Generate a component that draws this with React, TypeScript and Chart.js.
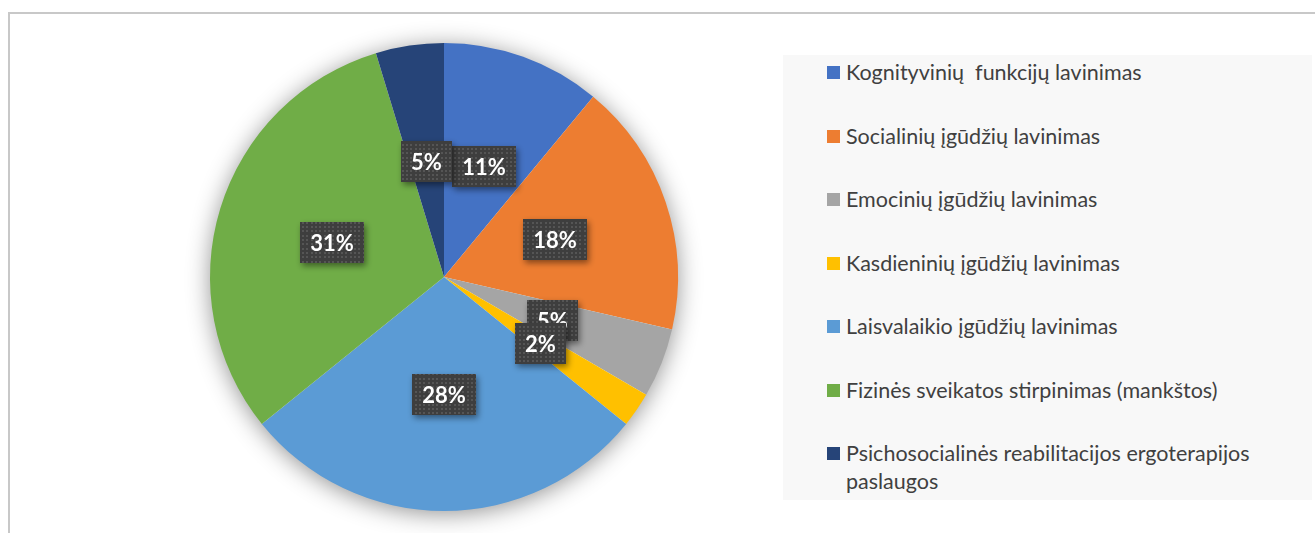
import React, { useEffect, useRef } from "react";
import { Chart, registerables } from "chart.js";

Chart.register(...registerables);

const categories: string[] = [
  "Kognityvinių  funkcijų lavinimas",
  "Socialinių įgūdžių lavinimas",
  "Emocinių įgūdžių lavinimas",
  "Kasdieninių įgūdžių lavinimas",
  "Laisvalaikio įgūdžių lavinimas",
  "Fizinės sveikatos stirpinimas (mankštos)",
  "Psichosocialinės reabilitacijos ergoterapijos paslaugos",
];

const values: number[] = [11, 17.6, 4.8, 2.4, 28.4, 31.1, 4.7];

const colors: string[] = [
  "#4472C4",
  "#ED7D31",
  "#A5A5A5",
  "#FFC000",
  "#5B9BD5",
  "#70AD47",
  "#264478",
];

function makePattern(ctx: CanvasRenderingContext2D): CanvasPattern | string {
  const tile = document.createElement("canvas");
  tile.width = 13;
  tile.height = 13;
  const t = tile.getContext("2d");
  if (!t) return "#404040";
  t.fillStyle = "#3e3e3e";
  t.fillRect(0, 0, 13, 13);
  t.fillStyle = "#555555";
  [1, 5, 9].forEach((px) => {
    [1, 5, 9].forEach((py) => {
      t.fillRect(px, py, 2, 2);
    });
  });
  return ctx.createPattern(tile, "repeat") || "#404040";
}

export default function App() {
  const canvasRef = useRef<HTMLCanvasElement | null>(null);

  useEffect(() => {
    const canvas = canvasRef.current;
    if (!canvas) return;

    const shadowPlugin = {
      id: "pieShadow",
      beforeDatasetsDraw(chart: any) {
        const meta = chart.getDatasetMeta(0);
        const arc = meta.data[0];
        if (!arc) return;
        const { x, y, outerRadius } = arc.getProps(["x", "y", "outerRadius"], true);
        const ctx = chart.ctx;
        ctx.save();
        ctx.shadowColor = "rgba(0,0,0,0.45)";
        ctx.shadowBlur = 24;
        ctx.shadowOffsetX = 0;
        ctx.shadowOffsetY = 3;
        ctx.fillStyle = "#ffffff";
        ctx.beginPath();
        ctx.arc(x, y, outerRadius - 1, 0, Math.PI * 2);
        ctx.fill();
        ctx.restore();
      },
    };

    const labelPlugin = {
      id: "boxLabels",
      afterDatasetsDraw(chart: any) {
        const meta = chart.getDatasetMeta(0);
        const ctx: CanvasRenderingContext2D = chart.ctx;
        const pattern = makePattern(ctx);
        ctx.save();
        ctx.font = "bold 22px Lato";
        meta.data.forEach((arc: any, i: number) => {
          const { x, y } = arc.getCenterPoint(true);
          const text = Math.round(values[i]) + "%";
          const w = Math.round(ctx.measureText(text).width + 20);
          const h = 41;
          const bx = Math.round(x - w / 2);
          const by = Math.round(y - h / 2);
          ctx.shadowColor = "rgba(0,0,0,0.45)";
          ctx.shadowBlur = 6;
          ctx.shadowOffsetX = 2;
          ctx.shadowOffsetY = 3;
          ctx.fillStyle = pattern as any;
          ctx.fillRect(bx, by, w, h);
          ctx.shadowColor = "rgba(0,0,0,0)";
          ctx.shadowBlur = 0;
          ctx.shadowOffsetX = 0;
          ctx.shadowOffsetY = 0;
          ctx.fillStyle = "#ffffff";
          ctx.textAlign = "center";
          ctx.textBaseline = "middle";
          ctx.fillText(text, bx + w / 2, by + h / 2 + 1);
        });
        ctx.restore();
      },
    };

    const chart = new Chart(canvas, {
      type: "pie",
      data: {
        labels: categories,
        datasets: [
          {
            data: values,
            backgroundColor: colors,
            borderWidth: 0,
            hoverOffset: 0,
            offset: 0,
          } as any,
        ],
      },
      options: {
        responsive: false,
        animation: false,
        layout: { padding: { left: 30, right: 30, top: 30, bottom: 22 } },
        plugins: {
          legend: { display: false },
          tooltip: { enabled: false },
        },
      },
      plugins: [shadowPlugin, labelPlugin],
    });

    return () => {
      chart.destroy();
    };
  }, []);

  return (
    <div
      style={{
        position: "fixed",
        left: 0,
        top: 0,
        width: 1315,
        height: 533,
        background: "#ffffff",
        overflow: "hidden",
        fontFamily: "Lato, sans-serif",
      }}
    >
      <div
        style={{
          position: "absolute",
          left: 8,
          top: 12,
          width: 1400,
          height: 600,
          border: "2px solid #c8c8c8",
          boxSizing: "border-box",
        }}
      />
      <div
        style={{
          position: "absolute",
          left: 783,
          top: 55,
          width: 529,
          height: 445,
          background: "#f8f8f8",
        }}
      >
        <div style={{ position: "absolute", left: 44, top: 3 }}>
          {categories.map((c, i) => (
            <div
              key={i}
              style={{
                display: "flex",
                alignItems: "flex-start",
                marginBottom: 35.5,
              }}
            >
              <div
                style={{
                  width: 13,
                  height: 13,
                  background: colors[i],
                  marginTop: 8,
                  marginRight: 6,
                  flex: "0 0 auto",
                }}
              />
              <div
                style={{
                  fontSize: 21.5,
                  lineHeight: "28px",
                  color: "#404040",
                  maxWidth: 458,
                  whiteSpace: "pre-wrap",
                }}
              >
                {c}
              </div>
            </div>
          ))}
        </div>
      </div>
      <canvas
        ref={canvasRef}
        width={528}
        height={520}
        style={{ position: "absolute", left: 180, top: 13, width: 528, height: 520 }}
      />
    </div>
  );
}
